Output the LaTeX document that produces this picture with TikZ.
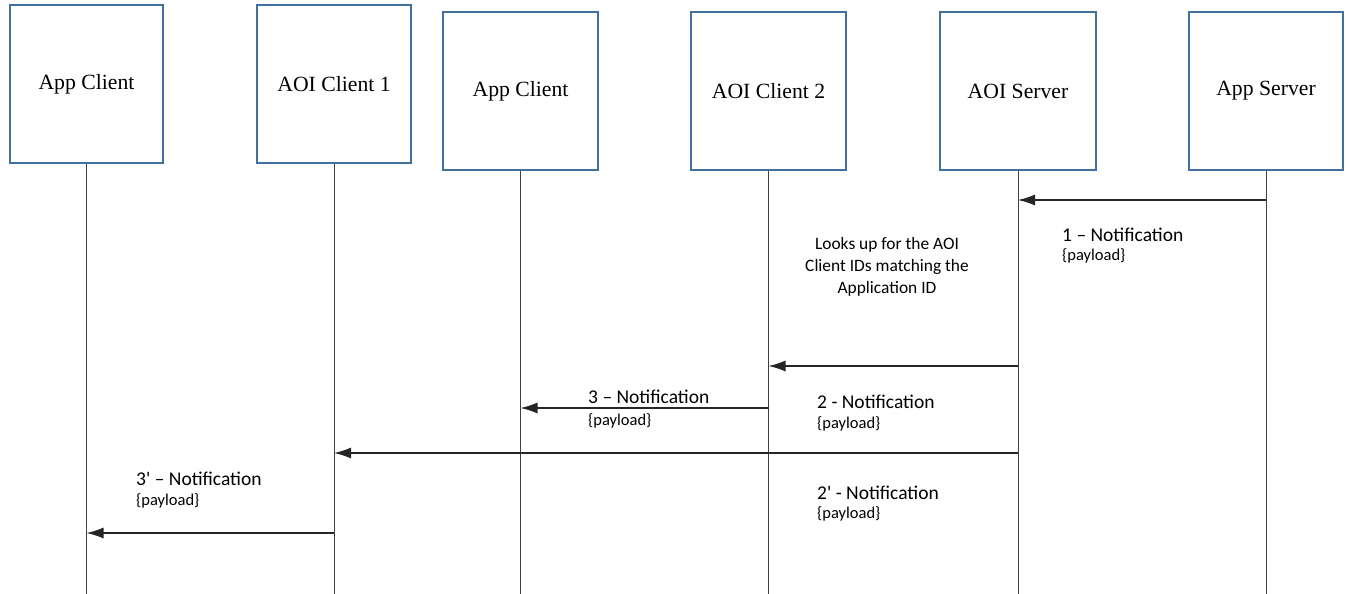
\documentclass[tikz,border=0pt]{standalone}
\usepackage{fontspec}
\setmainfont{Liberation Serif}
\newfontfamily\notefont{Carlito}
\usetikzlibrary{arrows.meta}
\definecolor{boxblue}{HTML}{41719C}
\tikzset{
  actor/.style={rectangle, draw=boxblue, line width=1.2pt, minimum height=158pt,
    font=\fontsize{21.7}{26}\selectfont},
  life/.style={draw=black!75, line width=1pt},
  msg/.style={draw=black!85, line width=1.3pt, -{Latex[length=17pt,width=11pt]}},
  note/.style={anchor=base west, inner sep=0pt, font=\notefont\fontsize{19.5}{23}\selectfont},
  load/.style={anchor=base west, inner sep=0pt, font=\notefont\fontsize{16.5}{20}\selectfont}
}
\begin{document}
\begin{tikzpicture}[x=1pt, y=-1pt]
    \useasboundingbox (0,0) rectangle (1346,594);
    % participants
    \node [actor, minimum width=153pt] (appc1) at (86.5,84) {App Client};
    \node [actor, minimum width=154pt] (aoic1) at (334,84) {AOI Client 1};
    \node [actor, minimum width=155pt] (appc2) at (520.5,91) {App Client};
    \node [actor, minimum width=155pt] (aoic2) at (768.5,91) {AOI Client 2};
    \node [actor, minimum width=156pt] (aois) at (1018,91) {AOI Server};
    \node [actor, minimum width=154pt] (apps) at (1266,91) {App Server};
    % lifelines
    \foreach \p in {appc1, aoic1, appc2, aoic2, aois, apps}
        \draw [life] (\p.south) -- (\p.south |- 0,594);
    % messages
    \draw [msg] (apps.south |- 0,200) -- (aois.south |- 0,200);
    \draw [msg] (aois.south |- 0,366) -- (aoic2.south |- 0,366);
    \draw [msg] (aoic2.south |- 0,408) -- (appc2.south |- 0,408);
    \draw [msg] (aois.south |- 0,453) -- (aoic1.south |- 0,453);
    \draw [msg] (aoic1.south |- 0,533) -- (appc1.south |- 0,533);
    % labels
    \node [note] (n1) at (1062,241) {1 – Notification};
    \node [load] (p1) at (1062,260.5) {\{payload\}};
    \node [align=center, inner sep=0pt, font=\notefont\fontsize{17.4}{22}\selectfont] (look) at (887,267)
        {Looks up for the AOI\\Client IDs matching the\\Application ID};
    \node [note] (n2) at (817,408.5) {2 - Notification};
    \node [load] (p2) at (817,428) {\{payload\}};
    \node [note] (n3) at (588,403.5) {3 – Notification};
    \node [load] (p3) at (588,425) {\{payload\}};
    \node [note] (n2b) at (817,499) {2' - Notification};
    \node [load] (p2b) at (817,518.5) {\{payload\}};
    \node [note] (n3b) at (136,485.5) {3' – Notification};
    \node [load] (p3b) at (136,505) {\{payload\}};
\end{tikzpicture}
\end{document}
